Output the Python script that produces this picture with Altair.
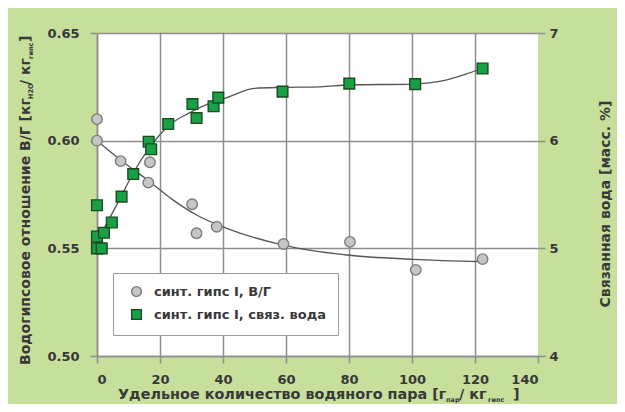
import altair as alt
import pandas as pd

# ---- data ----
vg_x = [0, 0, 7.5, 16.8, 16.3, 30.2, 31.6, 38.0, 59.2, 80.3, 101.2, 122.4]
vg_y = [0.610, 0.600, 0.5905, 0.590, 0.5805, 0.5705, 0.557, 0.560, 0.552, 0.553, 0.540, 0.545]

sv_x = [0, 0, 2.2, 4.7, 0, 1.5, 7.8, 11.5, 16.4, 17.2, 22.6, 30.3, 31.6, 37.0, 38.5, 58.9, 80.1, 101.0, 122.4]
sv_y = [5.40, 5.11, 5.145, 5.24, 5.00, 5.00, 5.48, 5.69, 5.99, 5.92, 6.155, 6.34, 6.21, 6.32, 6.40, 6.455, 6.53, 6.525, 6.67]

vg_curve_x = [0, 8.4, 15.8, 24.2, 31.6, 41.2, 59.1, 79.3, 100.4, 122.1]
vg_curve_y = [0.600, 0.590, 0.582, 0.5724, 0.5655, 0.5593, 0.5515, 0.5469, 0.5449, 0.5438]

sv_curve_x = [0, 7.8, 11.5, 16.8, 23.2, 29.5, 36.9, 41.2, 50, 59, 70.8, 80, 100, 110, 120, 122.4]
sv_curve_y = [5.06, 5.49, 5.70, 5.94, 6.15, 6.26, 6.36, 6.40, 6.486, 6.495, 6.50, 6.517, 6.526, 6.557, 6.647, 6.67]

series_names = ["синт. гипс I, В/Г", "синт. гипс I, связ. вода"]

x_ticks = [0, 20, 40, 60, 80, 100, 120, 140]
left_ticks = [0.50, 0.55, 0.60, 0.65]
right_ticks = [4, 5, 6, 7]

# axis-title pieces (main text, subscript, ...)
xt_main, xt_sub1, xt_mid, xt_sub2, xt_end = "Удельное количество водяного пара [г", "пар", "/ кг", "гипс", "]"
yt_main, yt_sub1, yt_mid, yt_sub2, yt_end = "Водогипсовое отношение В/Г [кг", "H2O", "/ кг", "гипс", "]"
y2_title = "Связанная вода [масс. %]"

# ---- styling ----
FONT = "DejaVu Sans"
GREEN_BG = "#c6df9b"
GRID = "#8e8e8e"
LABEL = "#383838"
CIRCLE_FILL, CIRCLE_STROKE = "#c6c6c6", "#7c7c7c"
SQ_FILL, SQ_STROKE = "#17a045", "#1d4a22"

df_vg = pd.DataFrame({"x": vg_x, "y": vg_y, "series": series_names[0]})
df_sv = pd.DataFrame({"x": sv_x, "y": sv_y, "series": series_names[1]})
df_vgc = pd.DataFrame({"x": vg_curve_x, "y": vg_curve_y})
df_svc = pd.DataFrame({"x": sv_curve_x, "y": sv_curve_y})

x_enc = alt.X(
    "x:Q",
    scale=alt.Scale(domain=[0, 140], nice=False),
    axis=alt.Axis(
        values=x_ticks, title=None, grid=True, gridColor=GRID, gridWidth=1.5,
        gridOpacity=alt.condition("datum.value == 140", alt.value(0), alt.value(1)),
        tickSize=7, tickColor=GRID, tickWidth=1.5, domainColor=GRID, domainWidth=1.5,
        labelPadding=10, labelFontSize=13, labelFont=FONT, labelFontWeight="bold",
        labelColor=LABEL,
    ),
)

yl_enc = alt.Y(
    "y:Q",
    scale=alt.Scale(domain=[0.50, 0.65], nice=False, zero=False),
    axis=alt.Axis(
        orient="left", values=left_ticks, format=".2f", title=None, grid=True,
        gridColor=GRID, gridWidth=1.5, tickSize=7, tickColor=GRID, tickWidth=1.5,
        domainColor=GRID, domainWidth=1.5, labelPadding=11, labelFontSize=13,
        labelFont=FONT, labelFontWeight="bold", labelColor=LABEL,
    ),
)

yr_enc = alt.Y(
    "y:Q",
    scale=alt.Scale(domain=[4, 7], nice=False, zero=False),
    axis=alt.Axis(
        orient="right", values=right_ticks, format="d", title=None, grid=False,
        domain=False, tickSize=7, tickColor=GRID, tickWidth=1.5, labelPadding=4,
        labelFontSize=13, labelFont=FONT, labelFontWeight="bold", labelColor=LABEL,
    ),
)

legend = alt.Legend(
    title=None, orient="none", legendX=16, legendY=240, fillColor="white",
    strokeColor="#9a9a9a", padding=12, symbolOffset=5, labelOffset=11,
    rowPadding=6, labelFont=FONT, labelFontWeight="bold", labelFontSize=13,
    labelColor=LABEL, symbolSize=95, symbolStrokeWidth=1.4, symbolOpacity=1,
    labelLimit=400,
)
fill_enc = alt.Fill("series:N", scale=alt.Scale(domain=series_names, range=[CIRCLE_FILL, SQ_FILL]), legend=legend)
stroke_enc = alt.Stroke("series:N", scale=alt.Scale(domain=series_names, range=[CIRCLE_STROKE, SQ_STROKE]), legend=legend)
shape_enc = alt.Shape("series:N", scale=alt.Scale(domain=series_names, range=["circle", "square"]), legend=legend)

curve_vg = alt.Chart(df_vgc).mark_line(color="#555555", strokeWidth=1.3, interpolate="monotone").encode(
    x=x_enc, y=yl_enc)
pts_vg = alt.Chart(df_vg).mark_point(filled=True, size=110, strokeWidth=1.4, opacity=1).encode(
    x=x_enc, y=yl_enc, fill=fill_enc, stroke=stroke_enc, shape=shape_enc)

curve_sv = alt.Chart(df_svc).mark_line(color="#555555", strokeWidth=1.3, interpolate="monotone").encode(
    x=x_enc, y=yr_enc)
pts_sv = alt.Chart(df_sv).mark_point(filled=True, size=115, strokeWidth=1.4, opacity=1).encode(
    x=x_enc, y=yr_enc, fill=fill_enc, stroke=stroke_enc, shape=shape_enc)

left = alt.layer(curve_vg, pts_vg)
right = alt.layer(curve_sv, pts_sv)


def label(text, x, y, size, angle=0, align="left"):
    return alt.Chart(alt.Data(values=[{}])).mark_text(
        text=text, font=FONT, fontWeight="bold", fontSize=size, color=LABEL,
        angle=angle, align=align, baseline="alphabetic",
    ).encode(x=alt.value(x), y=alt.value(y))


SUB = 6.5
titles = [
    # bottom title
    label(xt_main, 21, 366, 14.4),
    label(xt_sub1, 349, 368.5, SUB),
    label(xt_mid, 362, 366, 14.4),
    label(xt_sub2, 391, 368.5, SUB),
    label(xt_end, 416, 366, 14.4),
    # left title (rotated, reads bottom to top)
    label(yt_main, -67, 332, 14, angle=270),
    label(yt_sub1, -64, 66, SUB, angle=270),
    label(yt_mid, -67, 52, 14, angle=270),
    label(yt_sub2, -64, 26, SUB, angle=270),
    label(yt_end, -67, 9, 14, angle=270),
    # right title
    label(y2_title, 513, 171, 14, angle=270, align="center"),
]

chart = alt.layer(left, right, *titles).resolve_scale(y="independent").properties(
    width=441, height=323,
    autosize=alt.AutoSizeParams(type="none"),
    padding={"left": 89, "top": 25, "right": 79, "bottom": 48},
    background=GREEN_BG,
).configure_view(fill="white", stroke=None)

chart.save("out.html", embed_options={"renderer": "svg", "actions": False})
